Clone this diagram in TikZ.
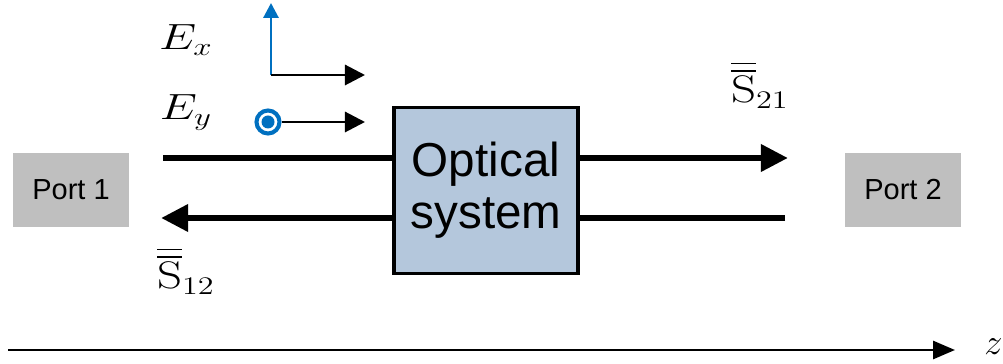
\documentclass[tikz,border=0pt]{standalone}
\usepackage{amsmath}
\usepackage{fontspec}
\newfontfamily\arialfont{Liberation Sans}
\usepackage{tikz}
\usetikzlibrary{arrows.meta}
\definecolor{boxblue}{HTML}{B4C7DC}
\definecolor{axblue}{HTML}{0070C0}
\definecolor{portgray}{HTML}{BFBFBF}
\newcommand{\bigarrow}{Triangle[length=15.4pt,width=14.8pt]}
\newcommand{\mlabel}[3][1.3]{\scalebox{#1}[1]{\fontsize{#2}{#2}\selectfont$#3$}}
\newcommand{\dblbar}[1]{\overline{\overline{\mathrm{#1}}}}
\tikzset{portbox/.style={rectangle, fill=portgray, inner sep=0pt, minimum width=66pt, minimum height=42pt, font=\arialfont\fontsize{16.5}{20}\selectfont},
         sysbox/.style={rectangle, draw, line width=2pt, fill=boxblue, inner sep=0pt, minimum width=105pt, minimum height=94.5pt, align=center, font=\arialfont\fontsize{27.1}{29.6}\selectfont},
         beam/.style={line width=3.7pt},
         fieldarr/.style={line width=1.7pt, -{Triangle[length=11.4pt,width=11.4pt]}}}

\begin{document}
\begin{tikzpicture}[x=0.02cm, y=-0.02cm]

\useasboundingbox (0,0) rectangle (1003,364);

\node[portbox] (p1) at (71,190) {Port 1};
\node[portbox] (p2) at (903,190) {Port 2};

% lines run behind the box
\coordinate (in1) at (163,158);
\coordinate (out2) at (788,158);
\coordinate (in2) at (785,218);
\coordinate (out1) at (161,218);
\draw[beam] (in1) -- (486,158);
\draw[beam, -{\bigarrow}] (486,158) -- (out2);
\draw[beam] (in2) -- (486,218);
\draw[beam, -{\bigarrow}] (486,218) -- (out1);
\node[sysbox] (sys) at (486,190.5) {Optical\\system};

% field directions
\coordinate (exo) at (271,75);
\coordinate (extop) at (271,3);
\coordinate (exend) at (365,75);
\draw[axblue, line width=1.7pt, -{Triangle[length=8.5pt,width=8.5pt]}] (exo) -- (extop);
\draw[fieldarr] (exo) -- (exend);
\node[circle, draw=axblue, line width=2.3pt, inner sep=0pt, minimum size=13.1pt] (eyo) at (268,122) {};
\fill[axblue] (eyo.center) circle (3.7pt);
\coordinate (eyend) at (365,122);
\draw[fieldarr] (eyo) -- (eyend);

\node[anchor=base] (ex) at (186,50) {\mlabel{19.3}{E_x}};
\node[anchor=base] (ey) at (186,120) {\mlabel{19.3}{E_y}};
\node[anchor=base] (s21) at (760,103) {\mlabel[1.27]{21.9}{\dblbar{S}_{21}}};
\node[anchor=base] (s12) at (186,289) {\mlabel[1.27]{21.9}{\dblbar{S}_{12}}};

% propagation axis
\coordinate (z0) at (8,350);
\coordinate (z1) at (955,350);
\draw[line width=1.7pt, -{Triangle[length=12.5pt,width=10.2pt]}] (z0) -- (z1);
\node[anchor=base west, inner sep=0pt] (zl) at (984,354) {\mlabel[1]{22}{z}};

\end{tikzpicture}
\end{document}
